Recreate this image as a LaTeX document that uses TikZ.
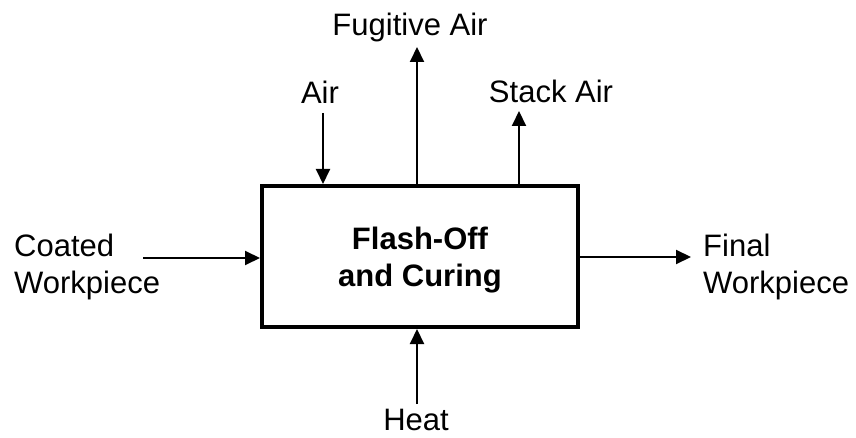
\documentclass[tikz,border=0pt]{standalone}
\usepackage{fontspec}
\setmainfont{Liberation Sans}
\usetikzlibrary{arrows.meta, positioning}

\tikzset{
  flow/.style={line width=2pt, -{Triangle[length=15pt, width=14pt]}},
  lbl/.style={font=\fontsize{31}{37}\selectfont, inner sep=0pt, align=left},
  procbox/.style={draw, line width=4pt, minimum width=316pt, minimum height=141pt, inner sep=0pt}
}

\begin{document}
\begin{tikzpicture}[x=1pt, y=-1pt]
\useasboundingbox (0,0) rectangle (856,438);
% process box
\node (box) at (420,256.5) [procbox] {};
\node (boxtxt) at (420,260) [lbl, font=\fontsize{31}{37}\selectfont\bfseries, align=center] {Flash-Off\\and Curing};
% labels
\node (air) at (320,92) [lbl] {Air};
\node (fug) at (410,27) [lbl] {Fugitive Air};
\node (stack) at (551,91) [lbl] {Stack Air};
\node (coated) at (14,267) [lbl, anchor=west] {Coated\\Workpiece};
\node (final) at (703,267) [lbl, anchor=west] {Final\\Workpiece};
\node (heat) at (416,420) [font=\fontsize{31}{37}\selectfont, inner sep=0pt] {Heat};
% arrow ends
\coordinate (airs) at (323,113);
\coordinate (fugt) at (417,47);
\coordinate (stackt) at (519,111);
\coordinate (cs) at (143,258);
\coordinate (ft) at (691,257);
\coordinate (hs) at (417,404);
% flows
\draw [flow] (airs) -- (airs |- box.north);
\draw [flow] (fugt |- box.north) -- (fugt);
\draw [flow] (stackt |- box.north) -- (stackt);
\draw [flow] (cs) -- (cs -| box.west);
\draw [flow] (ft -| box.east) -- (ft);
\draw [flow] (hs) -- (hs |- box.south);
\end{tikzpicture}
\end{document}
